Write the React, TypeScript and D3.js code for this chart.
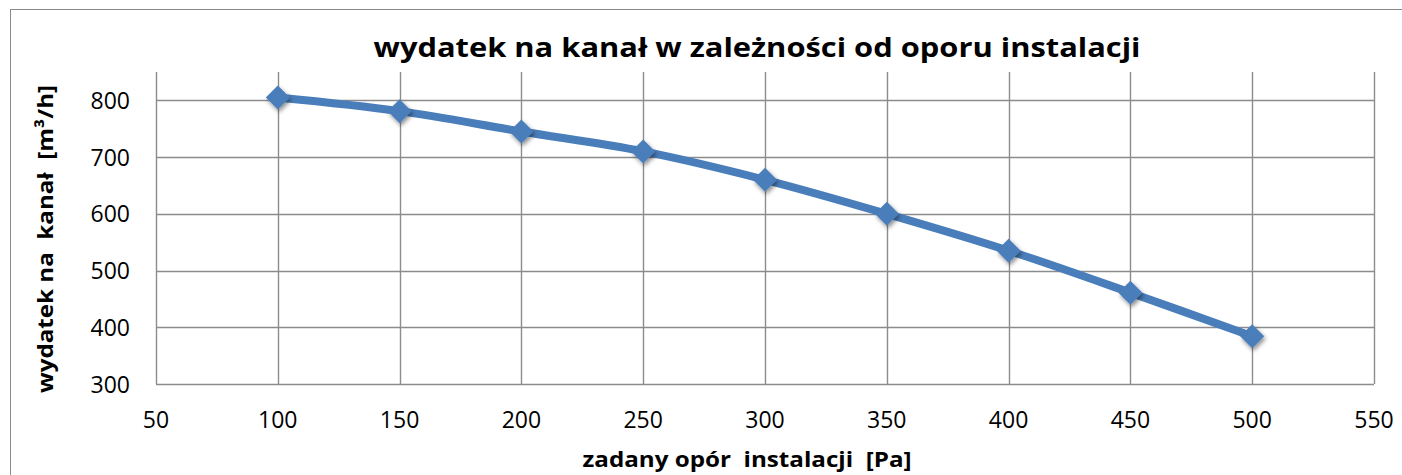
import React, { useEffect, useRef } from 'react';
import * as d3 from 'd3';

// values
const OPOR = [100, 150, 200, 250, 300, 350, 400, 450, 500];
const WYDATEK = [805, 781, 745, 710, 660, 600, 535, 461, 384];
const X_TICKS = [50, 100, 150, 200, 250, 300, 350, 400, 450, 500, 550];
const Y_TICKS = [300, 400, 500, 600, 700, 800];

const TITLE = 'wydatek na kanał w zależności od oporu instalacji';
const X_LABEL = 'zadany opór  instalacji  [Pa]';
const Y_LABEL = 'wydatek na  kanał  [m³/h]';

const W = 1402;
const H = 475;
const FONT = "'Open Sans', 'Noto Sans', sans-serif";
const GRID = '#8c8c8c';
const BLUE = '#4a7ebb';

export default function App() {
  const svgRef = useRef<SVGSVGElement | null>(null);

  useEffect(() => {
    const svg = d3.select(svgRef.current);
    svg.selectAll('*').remove();

    const x = d3.scaleLinear().domain([50, 550]).range([156, 1374]);
    const y = d3.scaleLinear().domain([300, 850]).range([384, 72]);

    // shadow under the markers
    const defs = svg.append('defs');
    const f = defs.append('filter').attr('id', 'shadow')
      .attr('x', '-50%').attr('y', '-50%').attr('width', '200%').attr('height', '200%');
    f.append('feDropShadow')
      .attr('dx', 1.5).attr('dy', 2.5).attr('stdDeviation', 2)
      .attr('flood-color', '#000').attr('flood-opacity', 0.45);

    svg.append('rect')
      .attr('width', W).attr('height', H).attr('fill', '#fff');

    // chart area border (right/bottom run off the picture)
    svg.append('rect')
      .attr('x', 10.5).attr('y', 9.5)
      .attr('width', W + 20).attr('height', H + 20)
      .attr('fill', 'none').attr('stroke', '#8a8a8a').attr('stroke-width', 1);

    const g = svg.append('g');

    // gridlines
    g.selectAll('line.hgrid')
      .data(Y_TICKS)
      .join('line')
      .attr('class', 'hgrid')
      .attr('x1', x(50)).attr('x2', x(550))
      .attr('y1', d => Math.round(y(d)) + 0.5).attr('y2', d => Math.round(y(d)) + 0.5)
      .attr('stroke', GRID).attr('stroke-width', 1.4);

    g.selectAll('line.vgrid')
      .data(X_TICKS)
      .join('line')
      .attr('class', 'vgrid')
      .attr('x1', d => Math.round(x(d)) + 0.5).attr('x2', d => Math.round(x(d)) + 0.5)
      .attr('y1', y(850)).attr('y2', y(300))
      .attr('stroke', GRID).attr('stroke-width', 1.4);

    // tick labels
    g.selectAll('text.ytick')
      .data(Y_TICKS)
      .join('text')
      .attr('class', 'ytick')
      .attr('x', 130).attr('y', d => y(d) + 8.5)
      .attr('text-anchor', 'end')
      .style('font-family', FONT).style('font-size', '23px').style('fill', '#000')
      .text(d => d);

    g.selectAll('text.xtick')
      .data(X_TICKS)
      .join('text')
      .attr('class', 'xtick')
      .attr('x', d => x(d)).attr('y', 428)
      .attr('text-anchor', 'middle')
      .style('font-family', FONT).style('font-size', '23px').style('fill', '#000')
      .text(d => d);

    // series
    const pts = OPOR.map((o, i) => [o, WYDATEK[i]] as [number, number]);
    const line = d3.line<[number, number]>()
      .x(d => x(d[0])).y(d => y(d[1]))
      .curve(d3.curveCatmullRom.alpha(0.5));

    g.append('path')
      .attr('d', line(pts))
      .attr('fill', 'none')
      .attr('stroke', BLUE)
      .attr('stroke-width', 8)
      .attr('stroke-linejoin', 'round');

    const s = 12;
    g.selectAll('path.marker')
      .data(pts)
      .join('path')
      .attr('class', 'marker')
      .attr('d', d => {
        const cx = x(d[0]), cy = y(d[1]);
        return `M${cx},${cy - s}L${cx + s},${cy}L${cx},${cy + s}L${cx - s},${cy}Z`;
      })
      .attr('fill', BLUE)
      .attr('filter', 'url(#shadow)');

    // titles
    svg.append('text')
      .attr('x', 757).attr('y', 57)
      .attr('text-anchor', 'middle')
      .attr('textLength', 767).attr('lengthAdjust', 'spacingAndGlyphs')
      .style('font-family', FONT).style('font-size', '27px').style('font-weight', '700')
      .text(TITLE);

    svg.append('text')
      .attr('x', 747).attr('y', 467)
      .attr('text-anchor', 'middle')
      .attr('textLength', 329).attr('lengthAdjust', 'spacingAndGlyphs')
      .style('font-family', FONT).style('font-size', '22px').style('font-weight', '700')
      .style('white-space', 'pre')
      .text(X_LABEL);

    svg.append('text')
      .attr('transform', 'translate(53,239) rotate(-90)')
      .attr('text-anchor', 'middle')
      .attr('textLength', 308).attr('lengthAdjust', 'spacingAndGlyphs')
      .style('font-family', FONT).style('font-size', '22px').style('font-weight', '700')
      .style('white-space', 'pre')
      .text(Y_LABEL);
  }, []);

  return (
    <svg ref={svgRef} width={W} height={H}
      style={{ position: 'absolute', left: 0, top: 0, display: 'block' }} />
  );
}
